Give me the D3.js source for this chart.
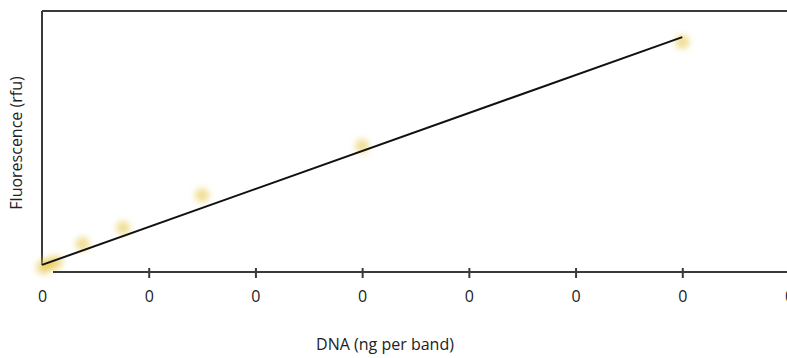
<!DOCTYPE html>
<html>
<head>
<meta charset="utf-8">
<script src="https://cdn.jsdelivr.net/npm/d3@7"></script>
<style>
  html, body { margin: 0; padding: 0; background: #fff; overflow: hidden; }
  svg { display: block; }
  text { font-family: "Open Sans", "Noto Sans", sans-serif; fill: #222; }
</style>
</head>
<body>
<script>
// ---- data ----
const xTickValues = [0, 1, 2, 3, 4, 5, 6, 7];
const xTickLabels = ["0", "0", "0", "0", "0", "0", "0", "0"];
const dnaValues = [0.01, 0.06, 0.13, 0.38, 0.76, 1.5, 3.0, 6.0];
const fluorValues = [0.12, 0.2, 0.26, 0.75, 1.18, 2.06, 3.38, 6.17];
const fitX = [0, 6];
const fitY = [0.19, 6.3];
const xLabel = "DNA (ng per band)";
const yLabel = "Fluorescence (rfu)";

// ---- layout ----
const W = 787, H = 358;
const svg = d3.select("body").append("svg").attr("width", W).attr("height", H);

const x = d3.scaleLinear().domain([0, 7]).range([42, 789]);
const y = d3.scaleLinear().domain([0, 7]).range([272, 11]);

const defs = svg.append("defs");
defs.append("filter").attr("id", "blur")
  .attr("x", "-100%").attr("y", "-100%").attr("width", "300%").attr("height", "300%")
  .append("feGaussianBlur").attr("stdDeviation", 3);

// frame: top and left lines
svg.append("line").attr("x1", x(0)).attr("x2", W).attr("y1", 11).attr("y2", 11)
  .attr("stroke", "#3a3a3a").attr("stroke-width", 2);
svg.append("line").attr("x1", x(0)).attr("x2", x(0)).attr("y1", 11).attr("y2", 265)
  .attr("stroke", "#3a3a3a").attr("stroke-width", 2);

// points
const pts = dnaValues.map((d, i) => ({ x: d, y: fluorValues[i] }));
svg.append("g").attr("filter", "url(#blur)")
  .selectAll("circle").data(pts).join("circle")
  .attr("cx", d => x(d.x)).attr("cy", d => y(d.y))
  .attr("r", 7)
  .attr("fill", "#e3c23a")
  .attr("fill-opacity", 0.55);

// x axis
const xAxis = d3.axisBottom(x)
  .tickValues(xTickValues)
  .tickFormat((d, i) => xTickLabels[i])
  .tickSize(0)
  .tickPadding(0);
const gx = svg.append("g").attr("transform", `translate(0,${y(0)})`).call(xAxis);
gx.select(".domain").remove();
gx.selectAll("text").attr("dy", null).attr("y", 30)
  .style("font-size", "16px").style("font-family", "'Open Sans', sans-serif").attr("fill", "#222");
gx.append("line").attr("x1", 53).attr("x2", W).attr("y1", 0).attr("y2", 0)
  .attr("stroke", "#3a3a3a").attr("stroke-width", 2);
gx.selectAll(".tick").filter(d => d > 0).append("line")
  .attr("y1", -4).attr("y2", 6).attr("stroke", "#3a3a3a").attr("stroke-width", 2);

// fit line
svg.append("path")
  .datum(fitX.map((d, i) => [d, fitY[i]]))
  .attr("d", d3.line().x(d => x(d[0])).y(d => y(d[1])))
  .attr("fill", "none").attr("stroke", "#111").attr("stroke-width", 2);

// axis labels
svg.append("text").attr("x", 385).attr("y", 350).attr("text-anchor", "middle")
  .style("font-size", "16px").text(xLabel);
svg.append("text").attr("transform", "translate(22,143) rotate(-90)")
  .attr("text-anchor", "middle").style("font-size", "16px").text(yLabel);
</script>
</body>
</html>
